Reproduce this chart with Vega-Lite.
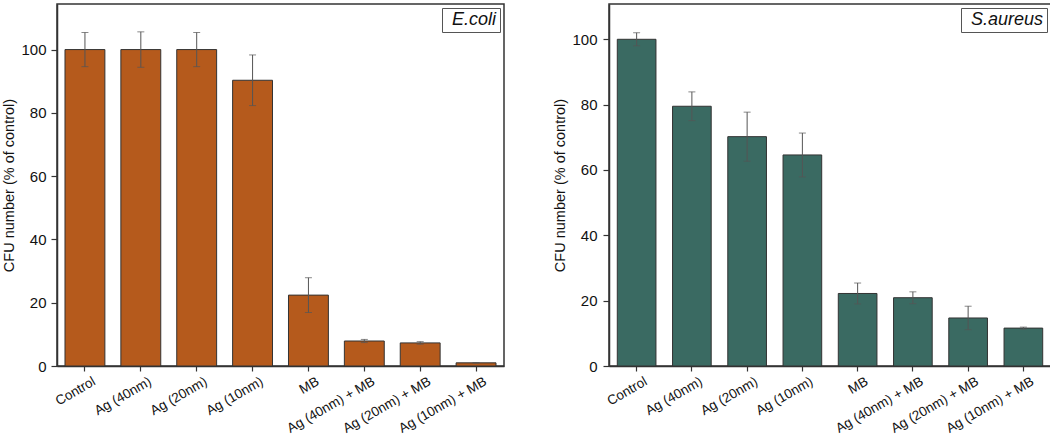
{
  "$schema": "https://vega.github.io/schema/vega-lite/v6.json",
  "padding": {"left": 1, "top": 3, "right": 1, "bottom": 0},
  "background": "white",
  "config": {
    "font": "Liberation Sans",
    "view": {"stroke": "#333333", "strokeWidth": 1.5},
    "axis": {"domainColor": "#333333", "domainWidth": 1.5, "tickColor": "#333333", "tickWidth": 1.2, "labelColor": "#111111", "titleColor": "#111111", "labelFontSize": 15, "titleFontSize": 14.5, "titleFontWeight": "normal", "grid": false},
    "legend": {"orient": "top-right", "offset": 4, "strokeColor": "#555555", "padding": 3, "fillColor": "white", "symbolSize": 0, "symbolStrokeWidth": 0, "symbolOpacity": 0, "labelOffset": -11, "labelFontSize": 18, "labelFontStyle": "italic", "labelColor": "#111111"},
    "concat": {"spacing": 47}
  },
  "resolve": {"scale": {"color": "independent", "x": "independent", "y": "independent"}, "legend": {"color": "independent"}},
  "datasets": {
    "ecoli": [
      {"group": "Control", "value": 100, "err": 5.4, "organism": "E.coli"},
      {"group": "Ag (40nm)", "value": 100, "err": 5.6, "organism": "E.coli"},
      {"group": "Ag (20nm)", "value": 100, "err": 5.4, "organism": "E.coli"},
      {"group": "Ag (10nm)", "value": 90.3, "err": 8.0, "organism": "E.coli"},
      {"group": "MB", "value": 22.4, "err": 5.5, "organism": "E.coli"},
      {"group": "Ag (40nm) + MB", "value": 7.9, "err": 0.5, "organism": "E.coli"},
      {"group": "Ag (20nm) + MB", "value": 7.3, "err": 0.4, "organism": "E.coli"},
      {"group": "Ag (10nm) + MB", "value": 1.0, "err": 0.1, "organism": "E.coli"}
    ],
    "saureus": [
      {"group": "Control", "value": 100, "err": 2.0, "organism": "S.aureus"},
      {"group": "Ag (40nm)", "value": 79.5, "err": 4.4, "organism": "S.aureus"},
      {"group": "Ag (20nm)", "value": 70.2, "err": 7.5, "organism": "S.aureus"},
      {"group": "Ag (10nm)", "value": 64.6, "err": 6.7, "organism": "S.aureus"},
      {"group": "MB", "value": 22.2, "err": 3.2, "organism": "S.aureus"},
      {"group": "Ag (40nm) + MB", "value": 20.9, "err": 1.8, "organism": "S.aureus"},
      {"group": "Ag (20nm) + MB", "value": 14.7, "err": 3.6, "organism": "S.aureus"},
      {"group": "Ag (10nm) + MB", "value": 11.6, "err": 0.3, "organism": "S.aureus"}
    ]
  },
  "hconcat": [
    {
      "width": 447, "height": 362,
      "data": {"name": "ecoli"},
      "layer": [
        {
          "mark": {"type": "bar", "stroke": "#333333", "strokeWidth": 1},
          "encoding": {
            "x": {"field": "group", "type": "nominal", "sort": null, "title": null, "scale": {"paddingInner": 0.286, "paddingOuter": 0.143}, "axis": {"labelAngle": -30, "labelAlign": "right", "labelBaseline": "top", "labelPadding": 3, "labelOffset": 6, "labelFontSize": 13.5, "tickSize": 5}},
            "y": {"field": "value", "type": "quantitative", "title": "CFU number (% of control)", "scale": {"domain": [0, 114.4], "nice": false}, "axis": {"values": [0, 10, 20, 30, 40, 50, 60, 70, 80, 90, 100, 110], "labelExpr": "datum.value % 20 === 0 ? datum.label : ''", "tickSize": {"condition": {"test": "datum.value % 20 === 0", "value": 6}, "value": 3}, "labelPadding": 5, "titlePadding": 4}},
            "color": {"field": "organism", "type": "nominal", "scale": {"range": ["#b55a1c"]}, "legend": {"title": null}}
          }
        },
        {
          "mark": {"type": "errorbar", "ticks": {"size": 7, "thickness": 1, "color": "#555555"}, "rule": {"color": "#555555", "strokeWidth": 1}},
          "encoding": {
            "x": {"field": "group", "type": "nominal", "sort": null, "title": null},
            "y": {"field": "value", "type": "quantitative", "title": "CFU number (% of control)"},
            "yError": {"field": "err"}
          }
        }
      ]
    },
    {
      "width": 442, "height": 362,
      "data": {"name": "saureus"},
      "layer": [
        {
          "mark": {"type": "bar", "stroke": "#333333", "strokeWidth": 1},
          "encoding": {
            "x": {"field": "group", "type": "nominal", "sort": null, "title": null, "scale": {"paddingInner": 0.3, "paddingOuter": 0.15}, "axis": {"labelAngle": -30, "labelAlign": "right", "labelBaseline": "top", "labelPadding": 3, "labelOffset": 6, "labelFontSize": 13.5, "tickSize": 5}},
            "y": {"field": "value", "type": "quantitative", "title": "CFU number (% of control)", "scale": {"domain": [0, 110.8], "nice": false}, "axis": {"values": [0, 10, 20, 30, 40, 50, 60, 70, 80, 90, 100, 110], "labelExpr": "datum.value % 20 === 0 ? datum.label : ''", "tickSize": {"condition": {"test": "datum.value % 20 === 0", "value": 6}, "value": 3}, "labelPadding": 6, "titlePadding": 4}},
            "color": {"field": "organism", "type": "nominal", "scale": {"range": ["#3a6a62"]}, "legend": {"title": null}}
          }
        },
        {
          "mark": {"type": "errorbar", "ticks": {"size": 7, "thickness": 1, "color": "#555555"}, "rule": {"color": "#555555", "strokeWidth": 1}},
          "encoding": {
            "x": {"field": "group", "type": "nominal", "sort": null, "title": null},
            "y": {"field": "value", "type": "quantitative", "title": "CFU number (% of control)"},
            "yError": {"field": "err"}
          }
        }
      ]
    }
  ]
}
